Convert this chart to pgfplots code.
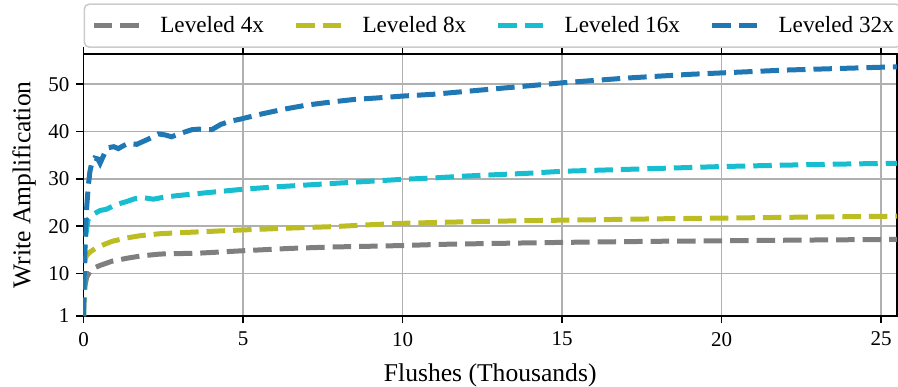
\documentclass[border=0pt]{standalone}
\usepackage{pgfplots}
\pgfplotsset{compat=1.18}
\usepackage{fontspec}
\setmainfont{Liberation Serif}

\definecolor{tabgray}{HTML}{7F7F7F}
\definecolor{tabolive}{HTML}{BCBD22}
\definecolor{tabcyan}{HTML}{17BECF}
\definecolor{tabblue}{HTML}{1F77B4}
\definecolor{gridgray}{HTML}{B0B0B0}
\definecolor{legframe}{HTML}{CCCCCC}

\pgfplotstableread{
x y
0 1
0.02 5
0.05 7.5
0.1 9.2
0.2 10.4
0.35 11.2
0.52 11.7
0.9 12.6
1.35 13.2
1.8 13.7
2.4 14.1
3.65 14.3
5 14.8
6.5 15.3
7.83 15.6
9 15.75
10 15.9
11.2 16.15
12.5 16.3
14.3 16.5
16 16.65
18 16.8
20 16.9
22.5 17.05
25.5 17.2
}\levelfour

\pgfplotstableread{
x y
0 1
0.02 8
0.05 13.0
0.1 13.8
0.2 14.5
0.4 15.4
0.6 16.0
0.9 16.8
1.35 17.5
1.8 18.0
2.4 18.4
3.0 18.6
3.65 18.8
5 19.2
6.5 19.6
7.83 19.9
9 20.3
10 20.6
11.2 20.8
12.5 21.0
14.3 21.2
16 21.35
18 21.55
20 21.7
22.5 21.9
25.5 22.1
}\leveleight

\pgfplotstableread{
x y
0 1
0.02 10
0.05 16.8
0.1 19.5
0.15 21.5
0.3 22.5
0.52 23.3
0.73 23.6
1.0 24.5
1.35 25.2
1.61 25.8
1.9 26.0
2.19 25.7
2.5 26.1
2.87 26.4
3.3 26.7
3.91 27.1
5.0 27.8
6 28.3
7 28.7
8 29.1
9 29.5
10 29.9
11 30.2
12 30.6
13 30.9
14 31.2
15 31.6
16 31.8
17 32.0
18 32.2
19 32.4
20 32.6
22 32.9
24 33.15
25.5 33.3
}\levelsixteen

\pgfplotstableread{
x y
0 1
0.03 12
0.07 20
0.1 24
0.15 28.5
0.2 31.5
0.26 33.4
0.35 34.4
0.45 34.2
0.52 33.3
0.6 34.5
0.7 36.0
0.78 36.6
0.95 36.8
1.09 36.4
1.25 37.0
1.4 37.5
1.67 37.3
2.03 38.4
2.35 39.5
2.55 39.3
2.76 38.9
3.08 39.7
3.4 40.4
3.6 40.5
4.02 40.4
4.3 41.5
4.6 42.2
4.9 42.6
5.5 43.6
6.26 44.7
7.0 45.6
7.83 46.3
8.5 46.8
9.19 47.1
10 47.5
11 47.9
12 48.5
13 49.1
14 49.7
15 50.3
16 50.8
17 51.3
18 51.7
19 52.1
20 52.4
21 52.7
22 53.0
23 53.2
24 53.4
25.5 53.7
}\levelthirtytwo

\begin{document}
\begin{tikzpicture}
\begin{axis}[
  name=ax,
  scale only axis,
  width=406.75pt, height=131pt,
  xmin=0, xmax=25.5,
  ymin=1, ymax=56.4,
  xtick={0,5,10,15,20,25},
  ytick={1,10,20,30,40,50},
  tick align=outside,
  major tick length=3.5pt,
  tick style={black, line width=0.8pt},
  axis line style={black, line width=0.8pt},
  grid=major,
  major grid style={gridgray, line width=0.9pt},
  /pgf/number format/assume math mode=true,
  ticklabel style={font=\fontsize{10.5}{12}\selectfont},
  xticklabel style={yshift=-1pt},
  xlabel={Flushes (Thousands)},
  ylabel={Write Amplification},
  label style={font=\fontsize{12.8}{15}\selectfont, inner sep=0pt},
  xlabel style={at={(axis description cs:0.5,-0.1794)}, anchor=north},
  ylabel style={at={(axis description cs:-0.0879,0.5)}, anchor=north, rotate=0},
  legend columns=4,
  legend cell align=left,
  legend style={
    at={(0,1)}, anchor=south west, yshift=3pt,
    draw=legframe, line width=0.8pt, rounded corners=2.5pt, fill=white,
    font=\fontsize{11.6}{14}\selectfont,
    inner xsep=3.5pt, inner ysep=6pt,
    nodes={inner sep=0pt, anchor=base west},
    /tikz/every odd column/.append style={column sep=8.5pt},
    /tikz/every even column/.append style={column sep=14.75pt},
    /tikz/column 8/.append style={column sep=0pt},
  },
  legend image code/.code={\draw[#1, line width=2.5pt] (0pt,3.2pt) -- (23.5pt,3.2pt);},
  every axis plot/.append style={line width=2.5pt, dash pattern=on 9.25pt off 4pt},
  clip=true,
]
\addplot[tabgray] table[x=x,y=y] {\levelfour};
\addlegendentry{Leveled 4x}
\addplot[tabolive] table[x=x,y=y] {\leveleight};
\addlegendentry{Leveled 8x}
\addplot[tabcyan] table[x=x,y=y] {\levelsixteen};
\addlegendentry{Leveled 16x}
\addplot[tabblue] table[x=x,y=y] {\levelthirtytwo};
\addlegendentry{Leveled 32x}
\end{axis}
\pgfresetboundingbox
\path[use as bounding box] ([xshift=-41.75pt,yshift=-35pt]ax.south west) rectangle ([xshift=0.5pt,yshift=27pt]ax.north east);
\end{tikzpicture}
\end{document}
